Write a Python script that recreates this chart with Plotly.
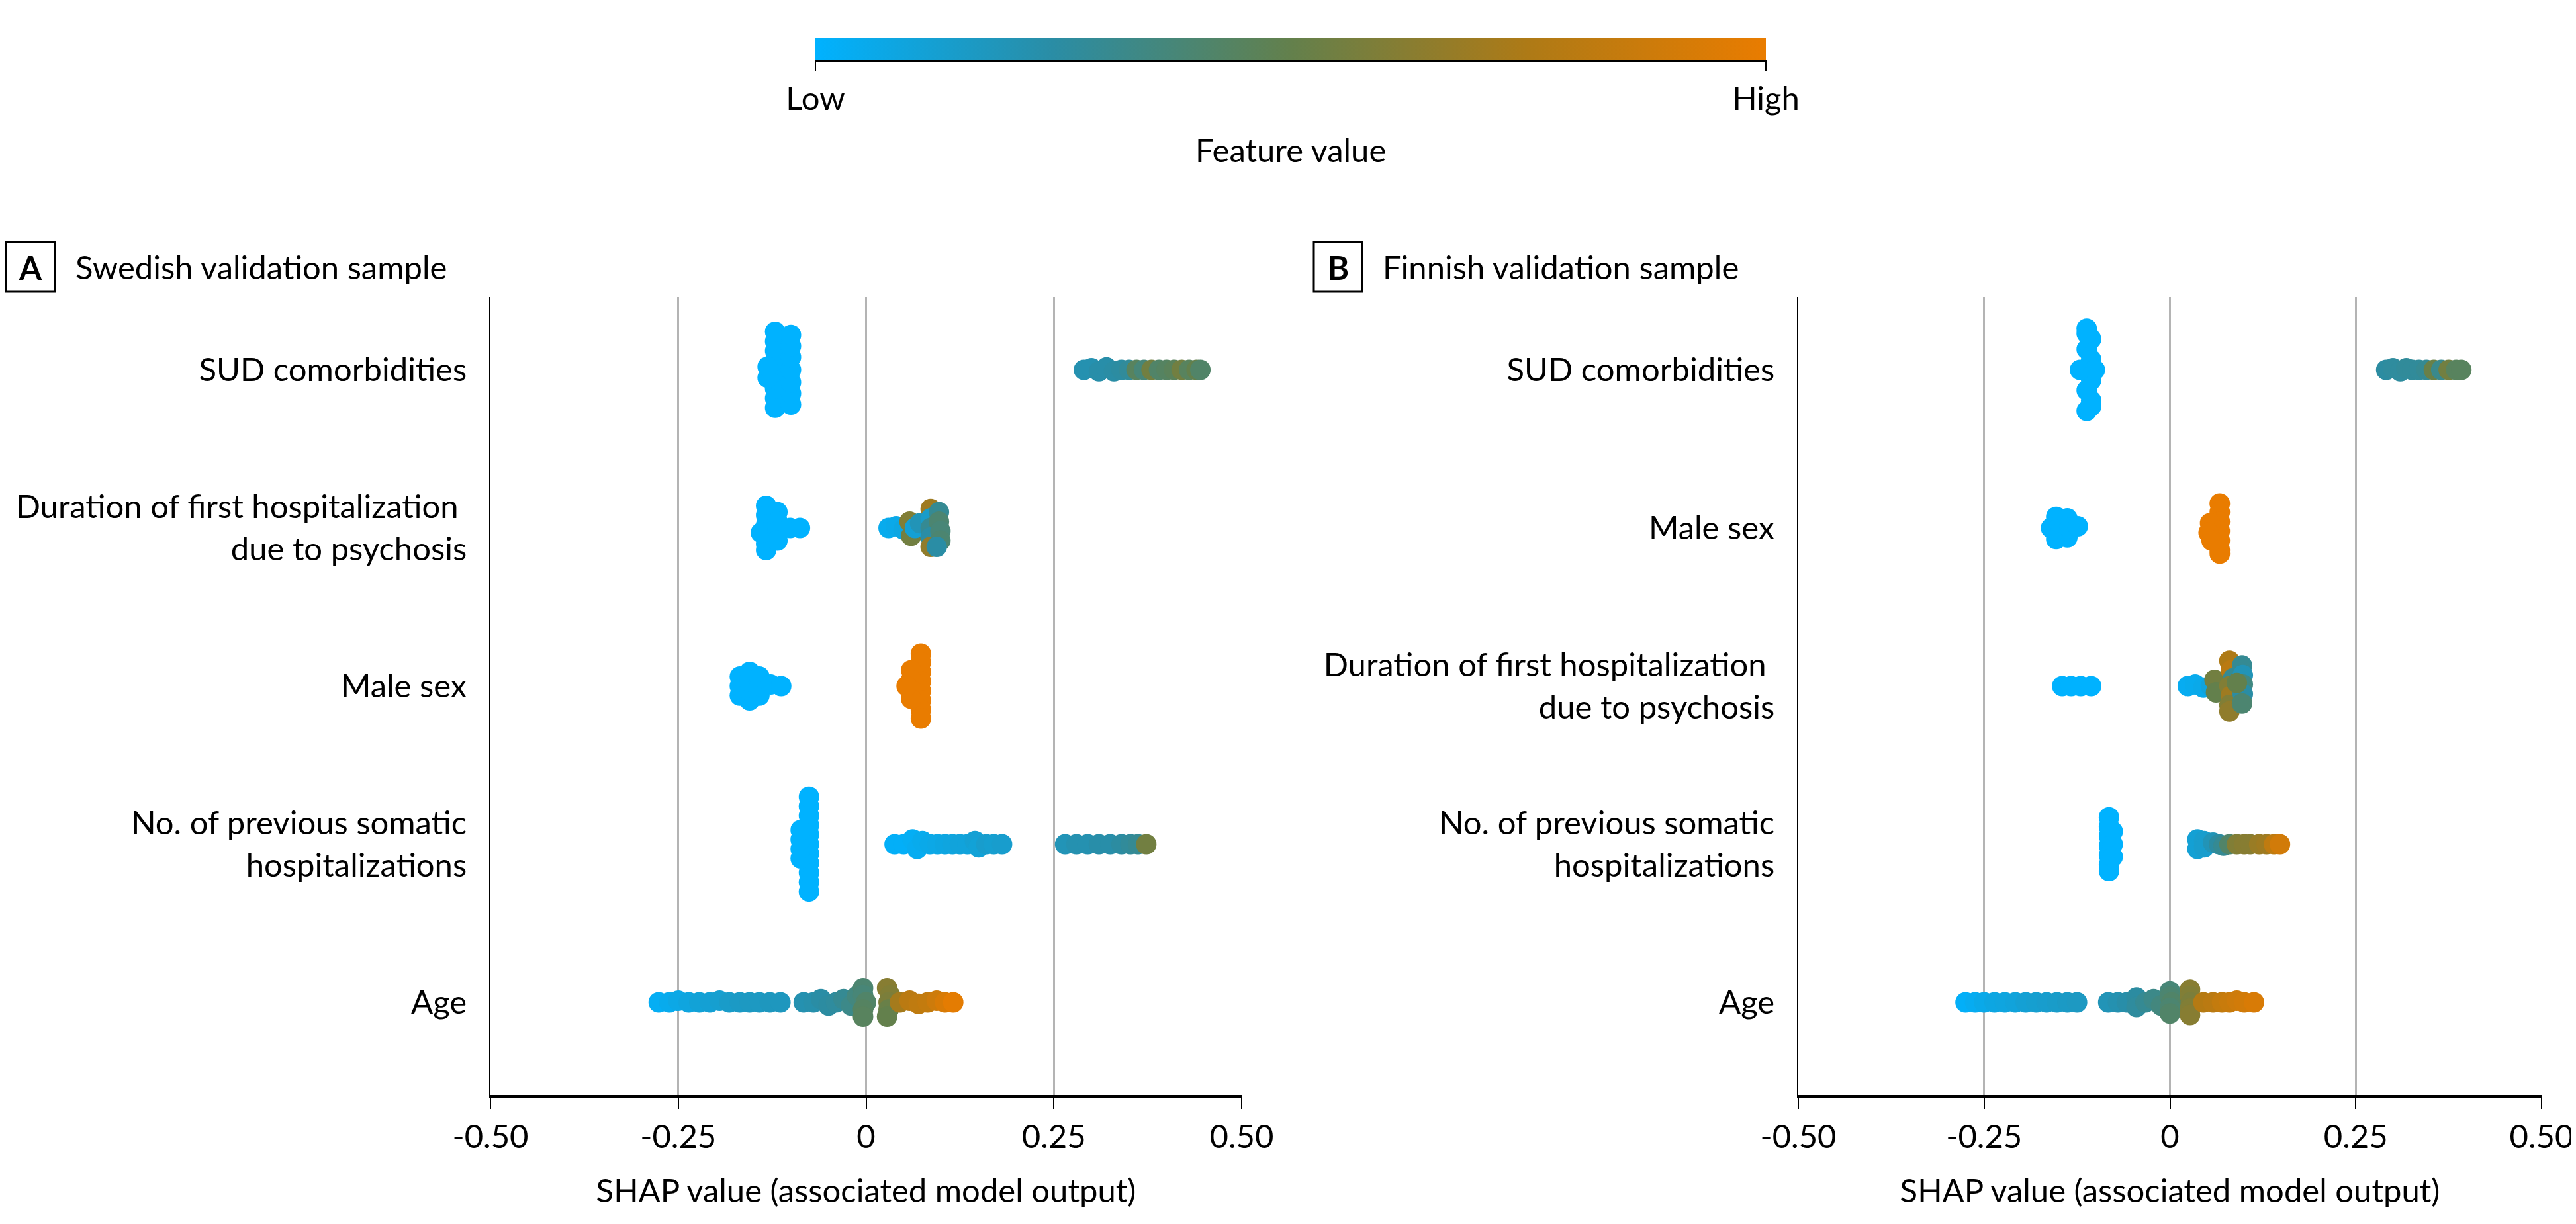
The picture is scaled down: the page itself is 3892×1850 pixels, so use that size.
import plotly.graph_objects as go

# SHAP beeswarm: (SHAP value, swarm offset in row units, feature value 0-1)
swe_labels = ["Age", "No. of previous somatic<br>hospitalizations", "Male sex",
              "Duration of first hospitalization <br>due to psychosis", "SUD comorbidities"]
fin_labels = ["Age", "No. of previous somatic<br>hospitalizations",
              "Duration of first hospitalization <br>due to psychosis", "Male sex", "SUD comorbidities"]

tick_vals = [-0.5, -0.25, 0, 0.25, 0.5]
tick_text = ["-0.50", "-0.25", "0", "0.25", "0.50"]

# ---- Swedish validation sample ----
swe_sud = [
    (-0.121, -0.24, 0), (-0.121, -0.18, 0), (-0.121, -0.12, 0), (-0.121, -0.06, 0), (-0.121, 0, 0),
    (-0.121, 0.06, 0), (-0.121, 0.12, 0), (-0.121, 0.18, 0), (-0.121, 0.24, 0),
    (-0.100, -0.22, 0), (-0.100, -0.15, 0), (-0.100, -0.08, 0), (-0.100, 0, 0), (-0.100, 0.08, 0),
    (-0.100, 0.15, 0), (-0.100, 0.22, 0), (-0.131, -0.05, 0), (-0.131, 0.02, 0),
    (0.29, 0, 0.22), (0.30, 0.01, 0.22), (0.31, -0.01, 0.24), (0.32, 0.015, 0.24), (0.33, -0.01, 0.25),
    (0.34, 0, 0.26), (0.35, 0, 0.28), (0.36, 0, 0.45), (0.37, 0, 0.38), (0.38, 0, 0.55), (0.39, 0, 0.42),
    (0.40, 0, 0.44), (0.41, 0, 0.46), (0.42, 0, 0.55), (0.43, 0, 0.45), (0.44, 0, 0.5), (0.445, 0, 0.42),
]
swe_duration = [
    (-0.133, 0.14, 0), (-0.133, 0.08, 0), (-0.133, 0.02, 0), (-0.133, -0.04, 0), (-0.133, -0.10, 0),
    (-0.133, -0.14, 0), (-0.14, -0.03, 0), (-0.118, 0.10, 0), (-0.118, 0.04, 0), (-0.118, -0.02, 0),
    (-0.118, -0.08, 0), (-0.101, 0, 0), (-0.088, 0, 0),
    (0.03, 0, 0.05), (0.04, 0.01, 0.06), (0.05, -0.01, 0.08), (0.058, 0.04, 0.6), (0.06, -0.05, 0.55),
    (0.065, 0, 0.12), (0.072, 0.03, 0.2), (0.086, 0.12, 0.7), (0.086, 0.06, 0.15), (0.086, 0, 0.3),
    (0.086, -0.06, 0.25), (0.086, -0.12, 0.65), (0.097, 0.1, 0.3), (0.097, 0.04, 0.4), (0.099, -0.02, 0.38),
    (0.099, -0.08, 0.4), (0.094, -0.12, 0.25),
]
swe_male = [
    (-0.168, -0.06, 0), (-0.168, 0, 0), (-0.168, 0.06, 0), (-0.155, -0.09, 0), (-0.155, -0.03, 0),
    (-0.155, 0.03, 0), (-0.155, 0.09, 0), (-0.142, -0.06, 0), (-0.142, 0, 0), (-0.142, 0.06, 0),
    (-0.127, 0.01, 0), (-0.113, 0, 0),
    (0.073, 0.205, 1), (0.073, 0.15, 1), (0.073, 0.09, 1), (0.073, 0.03, 1), (0.073, -0.03, 1),
    (0.073, -0.09, 1), (0.073, -0.15, 1), (0.073, -0.205, 1), (0.06, 0.1, 1), (0.06, 0.04, 1),
    (0.06, -0.02, 1), (0.06, -0.08, 1), (0.054, 0, 1),
]
swe_somatic = [
    (-0.076, -0.30, 0), (-0.076, -0.24, 0), (-0.076, -0.18, 0), (-0.076, -0.12, 0), (-0.076, -0.06, 0),
    (-0.076, 0, 0), (-0.076, 0.06, 0), (-0.076, 0.12, 0), (-0.076, 0.18, 0), (-0.076, 0.24, 0),
    (-0.076, 0.30, 0), (-0.087, -0.09, 0), (-0.087, -0.03, 0), (-0.087, 0.03, 0), (-0.087, 0.09, 0),
    (0.038, 0, 0.02), (0.05, 0, 0.02), (0.062, 0.03, 0.03), (0.068, -0.03, 0.04), (0.075, 0.02, 0.05),
    (0.085, 0, 0.06), (0.095, 0, 0.07), (0.105, 0, 0.08), (0.115, 0, 0.09), (0.125, 0, 0.1),
    (0.135, 0, 0.1), (0.145, 0.02, 0.12), (0.15, -0.02, 0.11), (0.16, 0, 0.14), (0.17, 0, 0.13),
    (0.181, 0, 0.14),
    (0.265, 0, 0.2), (0.28, 0, 0.22), (0.295, 0, 0.22), (0.31, 0, 0.24), (0.325, 0, 0.24),
    (0.34, 0, 0.26), (0.352, 0, 0.28), (0.362, 0, 0.3), (0.373, 0, 0.55),
]
swe_age = [
    (-0.276, 0, 0.03), (-0.262, 0, 0.05), (-0.25, 0.01, 0.07), (-0.236, 0, 0.09), (-0.222, 0, 0.11),
    (-0.208, 0, 0.12), (-0.195, 0.01, 0.13), (-0.182, 0, 0.15), (-0.168, 0, 0.16), (-0.155, 0, 0.17),
    (-0.142, 0, 0.17), (-0.128, 0, 0.18), (-0.114, 0, 0.18),
    (-0.083, 0, 0.22), (-0.07, 0, 0.23), (-0.06, 0.02, 0.25), (-0.05, -0.02, 0.26), (-0.04, 0, 0.27),
    (-0.03, 0.02, 0.3), (-0.02, -0.02, 0.33), (-0.012, 0.04, 0.36),
    (-0.004, 0.09, 0.4), (-0.004, 0.045, 0.38), (0.0, 0, 0.42), (-0.004, -0.045, 0.44), (-0.004, -0.09, 0.45),
    (0.028, 0.09, 0.62), (0.032, 0.045, 0.6), (0.03, 0, 0.58), (0.03, -0.045, 0.52), (0.028, -0.09, 0.5),
    (0.045, 0, 0.72), (0.058, 0.01, 0.8), (0.07, -0.01, 0.82), (0.082, 0, 0.84), (0.094, 0.01, 0.88),
    (0.105, 0, 0.93), (0.116, 0, 0.98),
]

# ---- Finnish validation sample ----
fin_sud = [
    (-0.112, -0.26, 0), (-0.106, -0.195, 0), (-0.112, -0.13, 0), (-0.106, -0.065, 0), (-0.112, 0, 0),
    (-0.106, 0.065, 0), (-0.112, 0.13, 0), (-0.106, 0.195, 0), (-0.112, 0.26, 0),
    (-0.106, -0.23, 0), (-0.112, 0.23, 0), (-0.121, 0, 0), (-0.101, 0, 0),
    (0.291, 0, 0.26), (0.30, 0.01, 0.27), (0.31, -0.01, 0.27), (0.318, 0.01, 0.28), (0.326, 0, 0.28),
    (0.335, 0, 0.28), (0.345, 0, 0.3), (0.355, 0, 0.52), (0.365, 0, 0.32), (0.375, 0, 0.55),
    (0.385, 0, 0.45), (0.392, 0, 0.45),
]
fin_male = [
    (-0.16, 0, 0), (-0.153, 0.07, 0), (-0.153, -0.07, 0), (-0.147, 0.02, 0), (-0.147, -0.03, 0),
    (-0.138, 0.06, 0), (-0.138, -0.06, 0), (-0.135, 0, 0), (-0.124, 0.01, 0),
    (0.067, 0.155, 1), (0.067, 0.1, 1), (0.067, 0.04, 1), (0.067, -0.02, 1), (0.067, -0.08, 1),
    (0.067, -0.14, 1), (0.067, -0.163, 1), (0.054, 0.03, 1), (0.052, -0.03, 1), (0.056, -0.08, 1),
]
fin_duration = [
    (-0.145, 0, 0), (-0.133, 0, 0), (-0.12, 0, 0), (-0.106, 0, 0),
    (0.024, 0, 0.04), (0.034, 0.01, 0.05), (0.045, -0.01, 0.06), (0.055, 0, 0.1), (0.06, 0.04, 0.55),
    (0.062, -0.04, 0.5), (0.08, 0.16, 0.75), (0.082, 0.1, 0.8), (0.085, 0.05, 0.3), (0.08, 0, 0.6),
    (0.082, -0.06, 0.7), (0.08, -0.12, 0.6), (0.08, -0.16, 0.65), (0.097, 0.13, 0.3), (0.098, 0.07, 0.2),
    (0.098, 0.01, 0.35), (0.098, -0.05, 0.25), (0.097, -0.11, 0.4), (0.09, 0.02, 0.5),
]
fin_somatic = [
    (-0.082, 0.17, 0), (-0.082, 0.11, 0), (-0.082, 0.05, 0), (-0.082, -0.01, 0), (-0.082, -0.07, 0),
    (-0.082, -0.13, 0), (-0.082, -0.17, 0), (-0.077, 0.08, 0), (-0.077, 0, 0), (-0.077, -0.08, 0),
    (0.037, 0.03, 0.12), (0.037, -0.03, 0.12), (0.046, 0.02, 0.14), (0.046, -0.02, 0.14), (0.058, 0.01, 0.2),
    (0.066, 0, 0.26), (0.072, -0.01, 0.3), (0.08, 0, 0.42), (0.09, 0, 0.6), (0.1, 0, 0.62),
    (0.108, 0, 0.62), (0.12, 0, 0.68), (0.13, 0, 0.7), (0.14, 0, 0.82), (0.148, 0, 0.9),
]
fin_age = [
    (-0.275, 0, 0.02), (-0.262, 0, 0.04), (-0.25, 0, 0.06), (-0.236, 0, 0.08), (-0.222, 0, 0.09),
    (-0.208, 0, 0.1), (-0.194, 0, 0.12), (-0.18, 0, 0.13), (-0.166, 0, 0.14), (-0.152, 0, 0.15),
    (-0.138, 0, 0.16), (-0.125, 0, 0.17),
    (-0.083, 0, 0.2), (-0.07, 0, 0.22), (-0.058, 0, 0.24), (-0.045, 0.03, 0.26), (-0.045, -0.03, 0.27),
    (-0.033, 0, 0.3), (-0.022, 0.02, 0.33), (-0.012, -0.02, 0.36),
    (0.0, 0.07, 0.38), (0.0, 0.035, 0.4), (0.002, 0, 0.42), (0.0, -0.035, 0.4), (0.0, -0.07, 0.42),
    (0.027, 0.08, 0.62), (0.027, 0.04, 0.6), (0.028, 0, 0.58), (0.027, -0.04, 0.6), (0.027, -0.08, 0.62),
    (0.045, 0, 0.78), (0.058, 0, 0.8), (0.07, 0, 0.84), (0.08, 0, 0.86), (0.09, 0.01, 0.88),
    (0.1, 0, 0.9), (0.113, 0, 0.93),
]

swe_rows = [swe_age, swe_somatic, swe_male, swe_duration, swe_sud]
fin_rows = [fin_age, fin_somatic, fin_duration, fin_male, fin_sud]

shap_colors = [[0, "#00B2FF"], [0.25, "#2A8DA5"], [0.5, "#63804C"], [0.75, "#AE7A16"], [1, "#E97C00"]]

FONT = "Lato"
FS = 49
W, H = 3892, 1850


def flatten(rows):
    xs, ys, cs = [], [], []
    for i, pts in enumerate(rows):
        for sx, off, fv in pts:
            xs.append(sx)
            ys.append(i + off)
            cs.append(fv)
    return xs, ys, cs


fig = go.Figure()

xa, ya, ca = flatten(swe_rows)
fig.add_trace(go.Scatter(
    x=xa, y=ya, mode="markers", xaxis="x", yaxis="y", hoverinfo="skip",
    marker=dict(size=31, color=ca, colorscale=shap_colors, cmin=0, cmax=1, opacity=1,
                line=dict(width=0), showscale=True,
                colorbar=dict(orientation="h", x=1942 / W, xanchor="center", y=1 - 49 / H, yanchor="top",
                              len=1436 / W, lenmode="fraction", thickness=34, outlinewidth=0,
                              xpad=0, ypad=0, tickvals=[0, 1], ticktext=["Low", "High"],
                              ticks="outside", ticklen=17, tickwidth=2, tickcolor="black",
                              tickfont=dict(family=FONT, size=FS, color="black"))),
))

xb, yb, cb = flatten(fin_rows)
fig.add_trace(go.Scatter(
    x=xb, y=yb, mode="markers", xaxis="x2", yaxis="y2", hoverinfo="skip",
    marker=dict(size=31, color=cb, colorscale=shap_colors, cmin=0, cmax=1, opacity=1,
                line=dict(width=0), showscale=False),
))

x_common = dict(range=[-0.5, 0.5], tickvals=tick_vals, ticktext=tick_text, showgrid=True,
                gridcolor="#B4B4B4", gridwidth=3, zeroline=False, showline=True, linecolor="black",
                linewidth=4, ticks="outside", ticklen=17, tickwidth=2, tickcolor="black",
                automargin=False, ticklabeloverflow="allow",
                tickfont=dict(family=FONT, size=FS, color="black"),
                title=dict(text="SHAP value (associated model output)", standoff=40,
                           font=dict(family=FONT, size=FS, color="black")))
y_common = dict(range=[-0.586, 4.46], tickvals=[0, 1, 2, 3, 4], showgrid=False, zeroline=False,
                showline=True, linecolor="black", linewidth=2, ticks="", ticklabelstandoff=24,
                automargin=False, tickfont=dict(family=FONT, size=FS, color="black"))

y_dom = [1 - 1647 / H, 1 - 441 / H]
fig.update_layout(
    width=W, height=H, margin=dict(l=0, r=0, t=0, b=0, autoexpand=False),
    plot_bgcolor="white", paper_bgcolor="white", showlegend=False,
    font=dict(family=FONT, size=FS, color="black"),
    xaxis=dict(domain=[733 / W, 1868 / W], anchor="y", **x_common),
    yaxis=dict(domain=y_dom, anchor="x", ticktext=swe_labels, **y_common),
    xaxis2=dict(domain=[2709 / W, 3832 / W], anchor="y2", **x_common),
    yaxis2=dict(domain=y_dom, anchor="x2", ticktext=fin_labels, **y_common),
)

# black rule under the colour bar
fig.add_shape(type="line", xref="paper", yref="paper", x0=1224 / W, x1=2660 / W,
              y0=1 - 84.5 / H, y1=1 - 84.5 / H, line=dict(color="black", width=3))
fig.add_annotation(text="Feature value", xref="paper", yref="paper", x=1942 / W, y=1 - 218 / H,
                   xanchor="center", yanchor="middle", showarrow=False,
                   font=dict(family=FONT, size=FS, color="black"))

# panel tags and titles
for letter, title, bx in [("A", "Swedish validation sample", 1.5), ("B", "Finnish validation sample", 1977)]:
    fig.add_shape(type="rect", xref="paper", yref="paper", x0=bx / W, x1=(bx + 73) / W,
                  y0=1 - 433 / H, y1=1 - 358 / H, line=dict(color="black", width=3))
    fig.add_annotation(text="<b>" + letter + "</b>", xref="paper", yref="paper", x=(bx + 36.5) / W,
                       y=1 - 396 / H, xanchor="center", yanchor="middle", showarrow=False,
                       font=dict(family=FONT, size=FS, color="black"))
    fig.add_annotation(text=title, xref="paper", yref="paper", x=(bx + 102) / W, y=1 - 395 / H,
                       xanchor="left", yanchor="middle", showarrow=False,
                       font=dict(family=FONT, size=FS, color="black"))

fig.write_html("out.html")
